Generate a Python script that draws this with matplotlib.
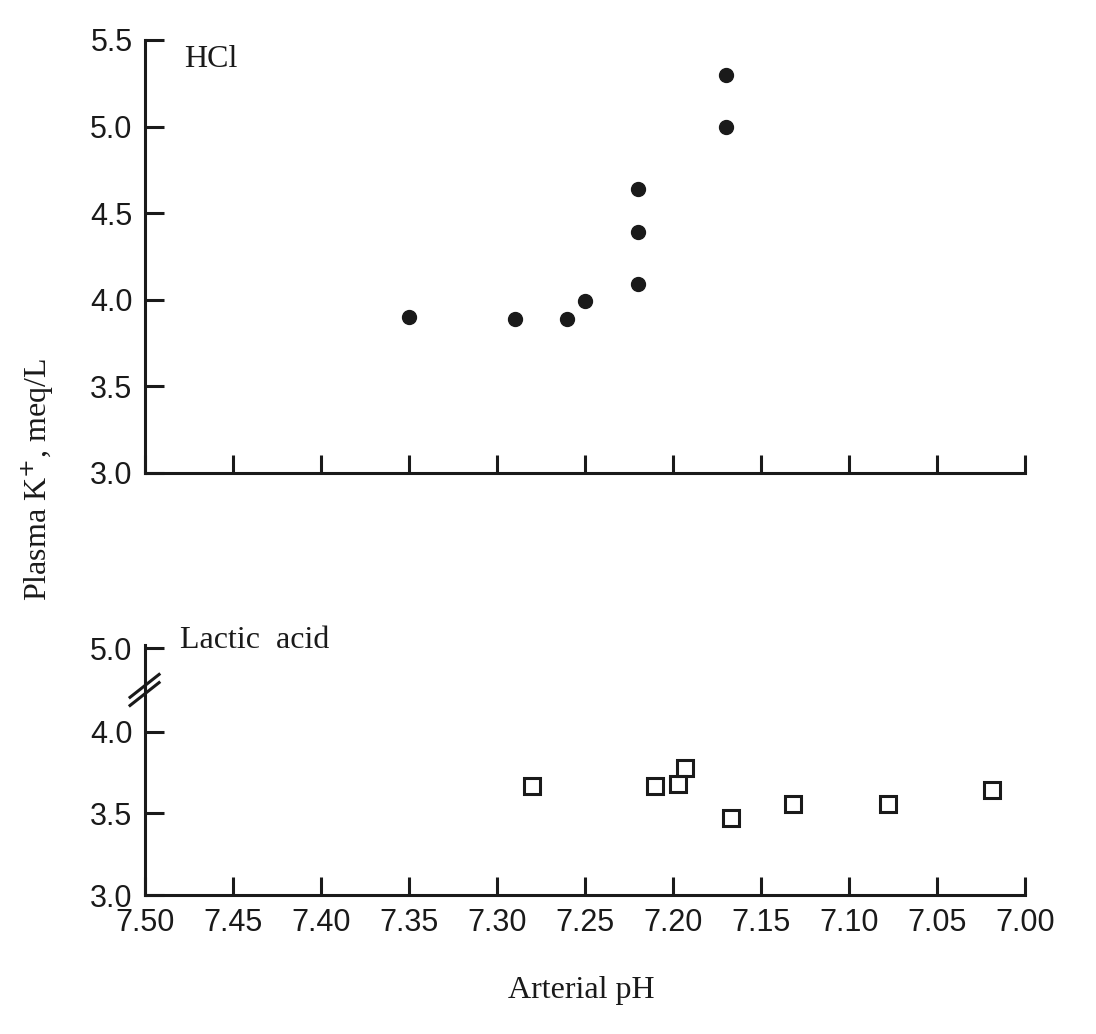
import numpy as np
import matplotlib
matplotlib.use('Agg')
import matplotlib.pyplot as plt

# HCl infusion: arterial pH vs plasma K+
hcl_ph = [7.35, 7.29, 7.26, 7.25, 7.22, 7.22, 7.22, 7.17, 7.17]
hcl_k = [3.90, 3.89, 3.89, 3.99, 4.09, 4.39, 4.64, 5.00, 5.30]

# lactic acid infusion
lac_ph = [7.28, 7.21, 7.197, 7.193, 7.167, 7.132, 7.078, 7.019]
lac_k = [3.67, 3.67, 3.68, 3.78, 3.47, 3.56, 3.56, 3.64]

xticks = [7.50, 7.45, 7.40, 7.35, 7.30, 7.25, 7.20, 7.15, 7.10, 7.05, 7.00]
top_yticks = [3.0, 3.5, 4.0, 4.5, 5.0, 5.5]
bot_yticks = [3.0, 3.5, 4.0]
bot_break_top = 4.51   # where "5.0" sits on the compressed axis

tickfont = 'Liberation Sans'
textfont = 'Liberation Serif'
ink = '#1a1a1a'

fig = plt.figure(figsize=(10.96, 10.34), dpi=100)
ax1 = fig.add_axes([0.1323, 0.5426, 0.8029, 0.4188])
ax2 = fig.add_axes([0.1323, 0.1344, 0.8029, 0.2418])

for ax in (ax1, ax2):
    for s in ('top', 'right'):
        ax.spines[s].set_visible(False)
    for s in ('left', 'bottom'):
        ax.spines[s].set_linewidth(2.2)
        ax.spines[s].set_color(ink)
    ax.set_xlim(7.50, 7.00)
    ax.set_xticks(xticks)
    ax.tick_params(axis='x', direction='in', length=13, width=2.2, pad=9, colors=ink)
    ax.tick_params(axis='y', direction='in', length=14, width=2.2, pad=9, colors=ink)

ax1.set_ylim(3.0, 5.5)
ax1.set_yticks(top_yticks)
ax1.set_yticklabels(['%.1f' % v for v in top_yticks], family=tickfont, fontsize=22)
ax1.set_xticklabels([])
ax1.plot(hcl_ph, hcl_k, 'o', color=ink, markersize=10, clip_on=False)
ax1.text(7.478, 5.385, 'HCl', family=textfont, fontsize=23, va='center', color=ink)

ax2.set_ylim(3.0, 4.53)
ax2.set_yticks(bot_yticks + [bot_break_top])
ax2.set_yticklabels(['3.0', '3.5', '4.0', '5.0'], family=tickfont, fontsize=22)
ax2.set_xticklabels(['%.2f' % v for v in xticks], family=tickfont, fontsize=22)
ax2.plot(lac_ph, lac_k, 's', mfc='none', mec=ink, mew=2.2, markersize=12)
ax2.text(7.48, 4.56, 'Lactic  acid', family=textfont, fontsize=23, va='center', color=ink)

# axis break marks on the lower y axis
trans = ax2.get_yaxis_transform()
for y0 in (4.16, 4.21):
    ax2.plot([-0.017, 0.016], [y0, y0 + 0.14], color=ink, lw=2.2,
             transform=trans, clip_on=False, zorder=6)

fig.text(0.034, 0.536, 'Plasma K$^{+}$, meq/L', rotation=90, ha='center', va='center',
         family=textfont, fontsize=23, color=ink)
fig.text(0.53, 0.0425, 'Arterial pH', ha='center', va='center', family=textfont,
         fontsize=23, color=ink)

fig.savefig('out.png', dpi=100, facecolor='white')
